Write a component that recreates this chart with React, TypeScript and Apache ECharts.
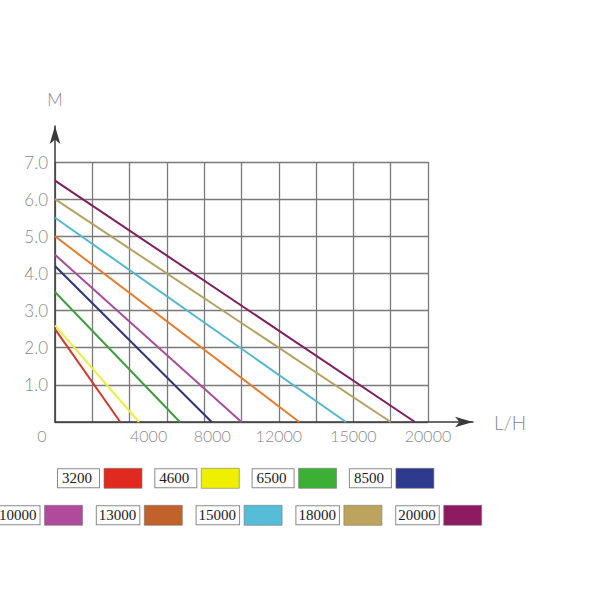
import React, { useEffect, useRef } from "react";
import * as echarts from "echarts";

const seriesNames = ["3200", "4600", "6500", "8500", "10000", "13000", "15000", "18000", "20000"];
const headAtZeroFlow = [2.5, 2.6, 3.5, 4.2, 4.5, 5.0, 5.5, 6.0, 6.5];
const flowAtZeroHead = [3500, 4500, 6700, 8400, 10000, 13100, 15600, 18000, 19300];
const lineColors = ["#d0382d", "#eeee40", "#3e9e3e", "#2f3579", "#a54e9b", "#e57c2c", "#52b8cf", "#b4a264", "#7e1d5f"];
const swatchColors = ["#e02a1f", "#eef000", "#3cb034", "#2d3a8e", "#b04a9c", "#c0622a", "#56bcd8", "#bca45e", "#8e1a62"];
const xTickLabels = ["0", "", "4000", "", "8000", "", "12000", "", "15000", "", "20000"];
const yTickLabels = ["", "1.0", "2.0", "3.0", "4.0", "5.0", "6.0", "7.0"];
const row1 = seriesNames.slice(0, 4);
const row2 = seriesNames.slice(4);

const labelFont = "Lato, 'DejaVu Sans', sans-serif";

export default function App() {
  const ref = useRef<HTMLDivElement>(null);
  useEffect(() => {
    if (!ref.current) return;
    const chart = echarts.init(ref.current, undefined, { renderer: "svg" });
    const baseRich = { fontSize: 16, fontFamily: labelFont, fontWeight: 300, color: "#8a8a8a" };
    const legendText = {
      fontFamily: "'Liberation Serif', serif",
      fontSize: 15,
      color: "#1a1a1a",
      backgroundColor: "#fff",
      borderColor: "#8a8a8a",
      borderWidth: 1,
      padding: [2, 7, 1, 4],
    };
    const legendData = (names: string[]) =>
      names.map((n) => ({ name: n, itemStyle: { color: swatchColors[seriesNames.indexOf(n)], borderColor: "#777", borderWidth: 0.6 } }));
    chart.setOption({
      animation: false,
      backgroundColor: "#fff",
      grid: [
        { left: 55, right: 172, top: 162, bottom: 178 },
        { left: 55, right: 127, top: 126, bottom: 178 },
      ],
      xAxis: [
        {
          gridIndex: 0,
          type: "value",
          min: 0,
          max: 20000,
          interval: 2000,
          axisLine: { show: false },
          axisTick: { show: false },
          splitLine: { show: true, lineStyle: { color: "#7a7a7a", width: 1.3 } },
          axisLabel: {
            margin: 5,
            ...baseRich,
            formatter: (v: number) => {
              const i = Math.round(v / 2000);
              const t = xTickLabels[i] || "";
              return t ? `{s${i}|${t}}` : "";
            },
            rich: {
              s0: { ...baseRich, padding: [0, 26, 0, 0] },
              s2: { ...baseRich, padding: [0, 0, 0, 38] },
              s4: { ...baseRich, padding: [0, 0, 0, 16] },
              s6: { ...baseRich },
              s8: { ...baseRich },
              s10: { ...baseRich },
            },
          },
        },
        {
          gridIndex: 1,
          type: "value",
          min: 0,
          max: 1,
          axisLine: { show: true, symbol: ["none", "arrow"], symbolSize: [8, 18], lineStyle: { color: "#3a3a3a", width: 1.5 } },
          axisTick: { show: false },
          axisLabel: { show: false },
          splitLine: { show: false },
          name: "L/H",
          nameLocation: "end",
          nameGap: 21,
          nameTextStyle: { fontSize: 19, fontFamily: labelFont, fontWeight: 300, color: "#8a8a8a", verticalAlign: "middle" },
        },
      ],
      yAxis: [
        {
          gridIndex: 0,
          type: "value",
          min: 0,
          max: 7,
          interval: 1,
          axisLine: { show: false },
          axisTick: { show: false },
          splitLine: { show: true, lineStyle: { color: "#7a7a7a", width: 1.3 } },
          axisLabel: {
            margin: 7,
            fontSize: 17,
            fontFamily: labelFont,
            fontWeight: 300,
            color: "#8a8a8a",
            formatter: (v: number) => yTickLabels[Math.round(v)] || "",
          },
        },
        {
          gridIndex: 1,
          type: "value",
          min: 0,
          max: 1,
          axisLine: { show: true, symbol: ["none", "arrow"], symbolSize: [8, 18], lineStyle: { color: "#3a3a3a", width: 1.5 } },
          axisTick: { show: false },
          axisLabel: { show: false },
          splitLine: { show: false },
          name: "M",
          nameLocation: "end",
          nameGap: 18,
          nameTextStyle: { fontSize: 17, fontFamily: labelFont, fontWeight: 300, color: "#8a8a8a", align: "center" },
        },
      ],
      legend: [
        {
          data: legendData(row1),
          left: 57,
          top: 468,
          padding: 0,
          orient: "horizontal",
          align: "right",
          icon: "rect",
          itemWidth: 38,
          itemHeight: 20,
          itemGap: 12,
          selectedMode: false,
          textStyle: legendText,
        },
        {
          data: legendData(row2),
          left: -4,
          top: 505,
          padding: 0,
          orient: "horizontal",
          align: "right",
          icon: "rect",
          itemWidth: 38,
          itemHeight: 20,
          itemGap: 13,
          selectedMode: false,
          textStyle: { ...legendText, padding: [2, 3, 1, 2] },
        },
      ],
      series: seriesNames.map((name, i) => ({
        name,
        type: "line",
        xAxisIndex: 0,
        yAxisIndex: 0,
        showSymbol: false,
        symbol: "none",
        lineStyle: { color: lineColors[i], width: 2 },
        itemStyle: { color: lineColors[i] },
        data: [
          [0, headAtZeroFlow[i]],
          [flowAtZeroHead[i], 0],
        ],
      })),
    });
    return () => chart.dispose();
  }, []);
  return <div ref={ref} style={{ width: 600, height: 600, position: "absolute", left: 0, top: 0 }} />;
}
